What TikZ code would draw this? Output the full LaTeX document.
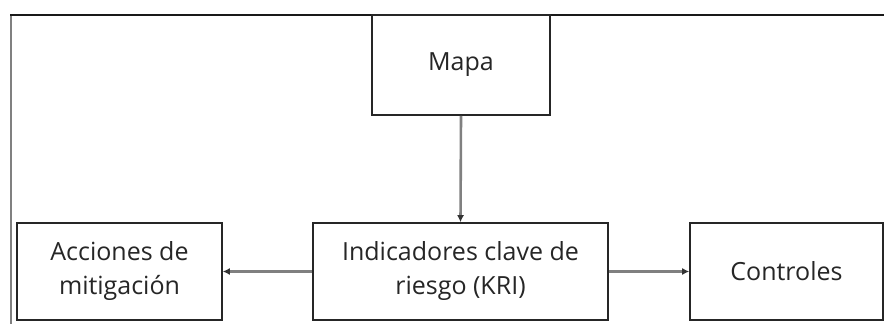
\documentclass[tikz,border=0pt]{standalone}
\usepackage{fontspec}
\setmainfont{Open Sans}
\usetikzlibrary{arrows.meta,positioning}

\begin{document}
\begin{tikzpicture}[x=1pt,y=1pt,
  box/.style={rectangle,draw=black!85,line width=1.6pt,fill=white,align=center,
    font=\fontsize{25}{34}\selectfont,text=black!85,inner sep=0pt},
  link/.style={draw=black!50,line width=2.6pt,-{Latex[length=7pt,width=7pt,black!80]}}]

\useasboundingbox (0,0) rectangle (884,324);

% frame lines
\draw[black!50,line width=1.2pt] (11,309) -- (11,0);
\draw[black!90,line width=2.8pt] (10,309) -- (884,309);

\node[box,minimum width=178,minimum height=100] (mapa) at (461,259) {Mapa};
\node[box,minimum width=295,minimum height=97] (kri) at (460.5,52.5) {Indicadores clave de\\riesgo (KRI)};
\node[box,minimum width=205,minimum height=97] (acc) at (119.5,52.5) {Acciones de\\mitigación};
\node[box,minimum width=193,minimum height=97] (ctrl) at (786.5,52.5) {Controles};

\draw[link] (mapa.south) -- (kri.north);
\draw[link] (kri.west) -- (acc.east);
\draw[link] (kri.east) -- (ctrl.west);

\end{tikzpicture}
\end{document}
